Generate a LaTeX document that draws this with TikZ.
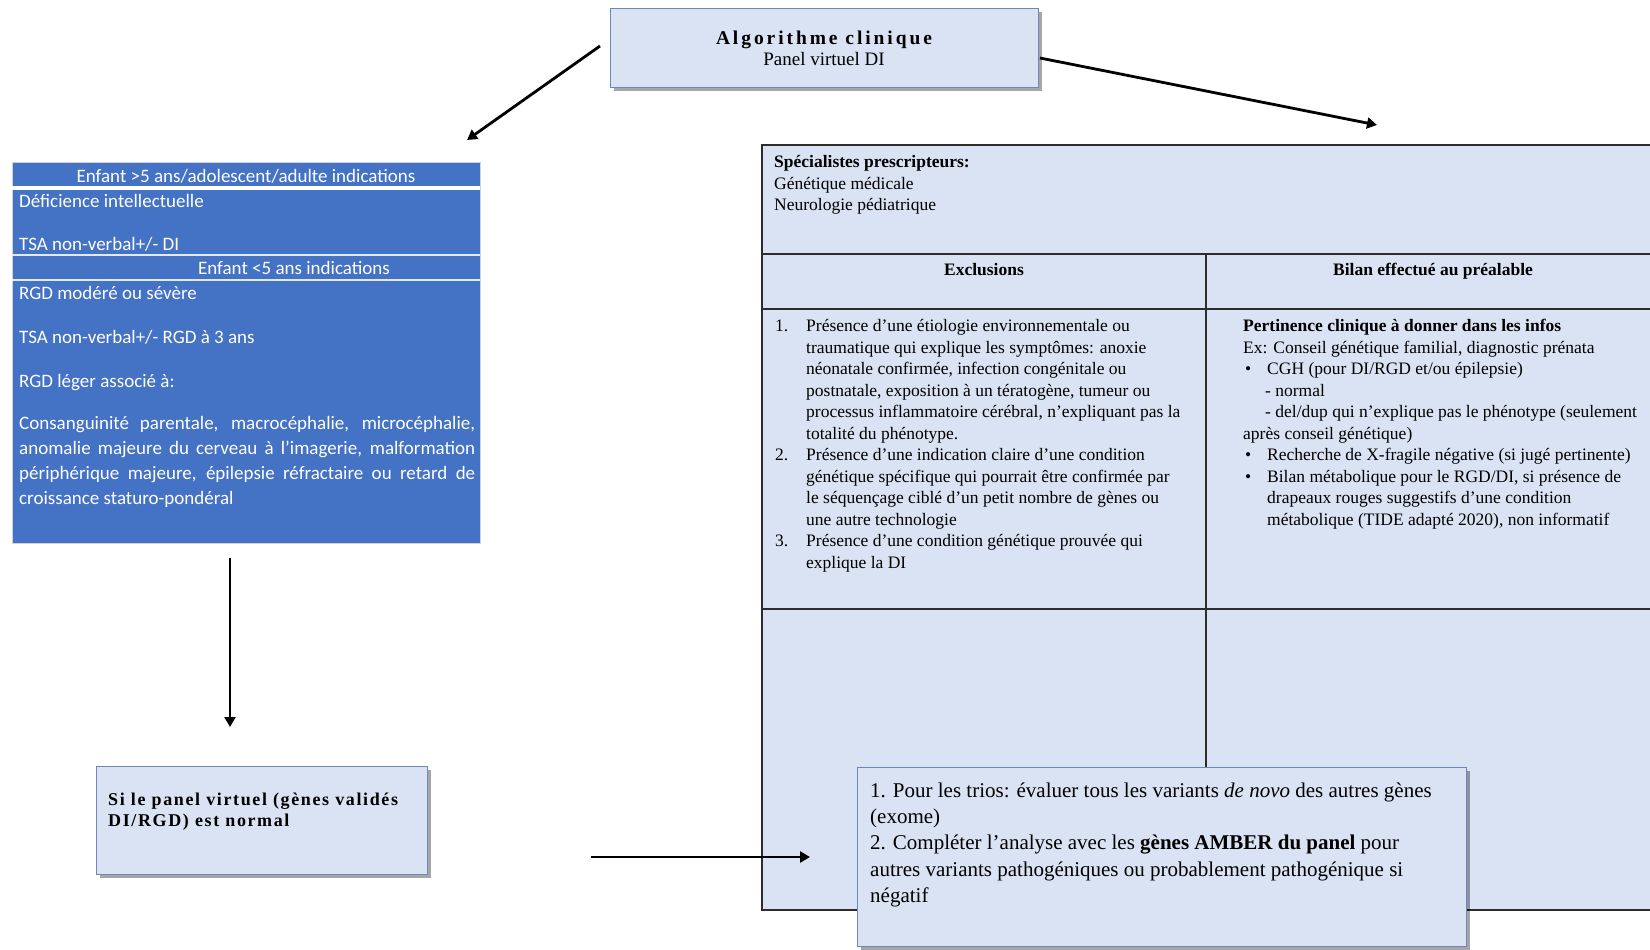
\documentclass[tikz,border=0pt]{standalone}
\usepackage{fontspec}
\setmainfont{Liberation Serif}
\newfontfamily\calibfont{Carlito}
\usetikzlibrary{arrows.meta,shadows}
\definecolor{lightbox}{HTML}{DAE3F3}
\definecolor{boxedge}{RGB}{110,135,182}
\definecolor{accentblue}{HTML}{4472C4}
\definecolor{tableline}{RGB}{45,45,45}
\begin{document}
\begin{tikzpicture}[x=1pt,y=-1pt,
  shadowbox/.style={draw=boxedge, line width=1.3pt, fill=lightbox, inner sep=0pt,
     drop shadow={shadow xshift=3pt, shadow yshift=-3pt, fill=black, opacity=0.35}},
  conn/.style={line width=2.8pt, -{Triangle[length=10pt,width=11pt]}},
  tline/.style={draw=tableline, line width=1.3pt},
  lbl/.style={inner sep=0pt, anchor=base west},
  serif/.style={font=\fontsize{17.5}{21.5}\selectfont},
  bluetxt/.style={inner sep=0pt, anchor=base west, text=white, font=\calibfont\fontsize{19}{25}\selectfont},
]
\useasboundingbox (0,0) rectangle (1650,950);

% ---------- table on the right ----------
\fill[lightbox] (762,145) rectangle (1650,910);
\draw[tline] (1650,145) -- (762,145) -- (762,910) -- (1650,910);
\draw[tline] (762,254) -- (1650,254);
\draw[tline] (762,309) -- (1650,309);
\draw[tline] (762,609) -- (1650,609);
\draw[tline] (1206,254) -- (1206,910);

\node[lbl, serif] (spec) at (774,167.5) {\begin{tabular}[t]{@{}l@{}}
\textbf{Spécialistes prescripteurs:}\\
Génétique médicale\\
Neurologie pédiatrique
\end{tabular}};
\node[serif, inner sep=0pt, anchor=base] (exh) at (984,275.5) {\textbf{Exclusions}};
\node[serif, inner sep=0pt, anchor=base] (bih) at (1433,275.5) {\textbf{Bilan effectué au préalable}};

\node[lbl, serif] (excl) at (775,331.5) {\begin{tabular}[t]{@{}l@{}}
\makebox[31pt][l]{1.}Présence d’une étiologie environnementale  ou\\
\hspace*{31pt}traumatique qui explique les symptômes: anoxie\\
\hspace*{31pt}néonatale confirmée, infection congénitale ou\\
\hspace*{31pt}postnatale, exposition à un tératogène,  tumeur ou\\
\hspace*{31pt}processus inflammatoire  cérébral, n’expliquant pas la\\
\hspace*{31pt}totalité du phénotype.\\
\makebox[31pt][l]{2.}Présence d’une indication claire d’une condition\\
\hspace*{31pt}génétique spécifique qui pourrait être confirmée par\\
\hspace*{31pt}le séquençage ciblé d’un petit nombre de gènes ou\\
\hspace*{31pt}une autre technologie\\
\makebox[31pt][l]{3.}Présence d’une condition génétique prouvée qui\\
\hspace*{31pt}explique la DI
\end{tabular}};

\node[lbl, serif] (bilan) at (1243,331.5) {\begin{tabular}[t]{@{}l@{}}
\textbf{Pertinence clinique à donner dans les infos}\\
Ex: Conseil génétique familial, diagnostic prénata\\
\makebox[24pt][l]{\hspace{2pt}•}CGH (pour DI/RGD et/ou épilepsie)\\
\hspace*{22pt}- normal\\
\hspace*{22pt}- del/dup qui n’explique pas le phénotype  (seulement\\
après conseil génétique)\\
\makebox[24pt][l]{\hspace{2pt}•}Recherche de X-fragile négative (si jugé pertinente)\\
\makebox[24pt][l]{\hspace{2pt}•}Bilan métabolique pour le RGD/DI, si présence de\\
\hspace*{24pt}drapeaux rouges suggestifs d’une condition\\
\hspace*{24pt}métabolique (TIDE adapté 2020), non informatif
\end{tabular}};

% ---------- top box ----------
\node[shadowbox, minimum width=428pt, minimum height=79pt, anchor=north west] (top) at (610,8) {};
\node[inner sep=0pt, anchor=base, font=\fontsize{19.5}{22}\selectfont\bfseries\addfontfeature{LetterSpace=15}] (title) at (824,45) {Algorithme clinique};
\node[inner sep=0pt, anchor=base, font=\fontsize{19}{22}\selectfont] (subtitle) at (824,65.5) {Panel virtuel DI};

% ---------- blue indications box ----------
\node[fill=accentblue, draw=gray!35, line width=1pt, minimum width=468pt, minimum height=381pt, anchor=north west, inner sep=0pt] (ind) at (12,162) {};
\draw[white, line width=4pt] (12,188) -- (480,188);
\draw[white!85!accentblue, line width=2pt] (12,255) -- (480,255);
\draw[white!85!accentblue, line width=2pt] (12,280) -- (480,280);
\node[bluetxt, anchor=base] (h1) at (246,182) {Enfant >5 ans/adolescent/adulte indications};
\node[bluetxt] (r1) at (19,207) {Déficience intellectuelle};
\node[bluetxt] (r2) at (19,250) {TSA non-verbal+/- DI};
\node[bluetxt, anchor=base] (h2) at (294,274) {Enfant <5 ans indications};
\node[bluetxt] (r3) at (19,299) {RGD modéré ou sévère};
\node[bluetxt] (r4) at (19,343) {TSA non-verbal+/- RGD à 3 ans};
\node[bluetxt] (r5) at (19,387) {RGD léger associé à:};
\node[bluetxt] (r6) at (19,429) {\parbox[t]{456pt}{\calibfont\fontsize{19}{25}\selectfont
Consanguinité parentale, macrocéphalie, microcéphalie,\linebreak
anomalie majeure du cerveau à l’imagerie,  malformation\linebreak
périphérique majeure, épilepsie réfractaire ou retard de\linebreak
croissance staturo-pondéral}};

% ---------- bottom left box ----------
\node[shadowbox, minimum width=331pt, minimum height=108pt, anchor=north west] (cond) at (96,766) {};
\node[lbl, font=\fontsize{18}{21}\selectfont\bfseries\addfontfeature{LetterSpace=9}] (condtxt) at (108,805.5) {\begin{tabular}[t]{@{}l@{}}
Si le panel virtuel (gènes validés\\
DI/RGD) est normal
\end{tabular}};

% ---------- bottom right box ----------
\node[shadowbox, minimum width=609pt, minimum height=179pt, anchor=north west] (next) at (857,767) {};
\node[lbl, font=\fontsize{21}{26.2}\selectfont] (nexttxt) at (870,797.5) {\begin{tabular}[t]{@{}l@{}}
1. Pour les trios:  évaluer tous les variants \textit{de novo} des autres gènes\\
(exome)\\
2. Compléter l’analyse  avec les \textbf{gènes AMBER du panel} pour\\
autres variants pathogéniques ou probablement pathogénique si\\
négatif
\end{tabular}};

% ---------- connectors ----------
\coordinate (a1s) at (600,46);
\coordinate (a1e) at (467,140);
\coordinate (a2s) at (1040,58);
\coordinate (a2e) at (1377,125);
\coordinate (a3s) at (230,558);
\coordinate (a3e) at (230,727);
\coordinate (a4s) at (591,857);
\coordinate (a4e) at (810,857);
\draw[conn] (a1s) -- (a1e);
\draw[conn] (a2s) -- (a2e);
\draw[conn] (a3s) -- (a3e);
\draw[conn] (a4s) -- (a4e);
\end{tikzpicture}
\end{document}
